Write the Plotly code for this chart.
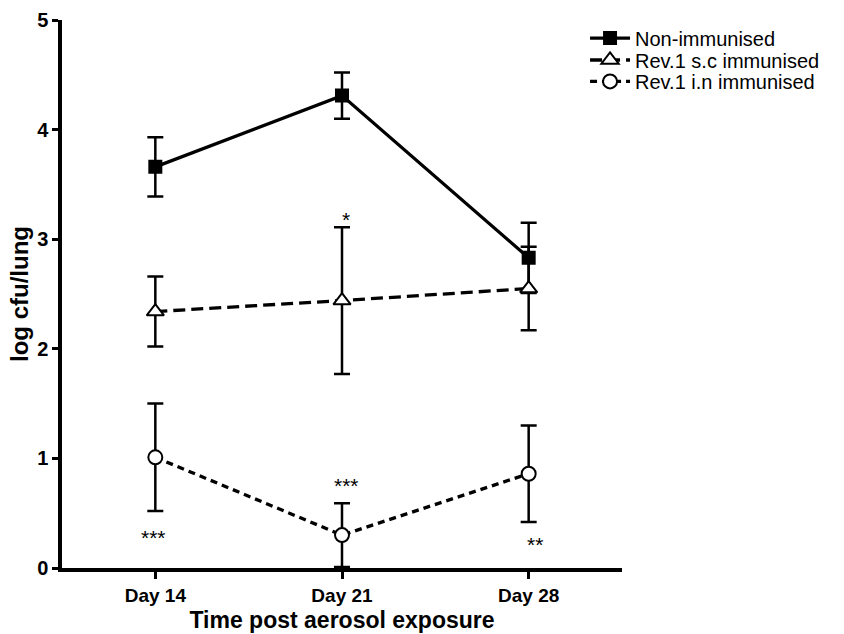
import plotly.graph_objects as go

days = ["Day 14", "Day 21", "Day 28"]
non_imm = [3.66, 4.31, 2.83]
non_imm_err = [0.27, 0.21, 0.32]
sc_imm = [2.34, 2.44, 2.55]
sc_imm_err = [0.32, 0.67, 0.38]
in_imm = [1.01, 0.30, 0.86]
in_imm_err = [0.49, 0.29, 0.44]

sig_labels = ["***", "*", "***", "**"]
sig_x = [0, 1, 1, 2]
sig_y = [0.275, 3.18, 0.755, 0.215]
sig_xshift = [-2, 4, 4, 6]

FONT = "Liberation Sans, Arial, sans-serif"

fig = go.Figure()

def add(name, y, err, dash, symbol, size, fill, leg):
    fig.add_trace(go.Scatter(
        x=days, y=y, name=name, mode="lines+markers", legend=leg,
        line=dict(color="black", width=3.3, dash=dash),
        marker=dict(symbol=symbol, size=size, color=fill,
                    line=dict(color="black", width=2)),
        error_y=dict(type="data", array=err, visible=True, color="black",
                     thickness=2.5, width=8),
    ))

add("Non-immunised", non_imm, non_imm_err, "solid", "square", 12, "black", "legend")
add("Rev.1 s.c immunised", sc_imm, sc_imm_err, "12px,6px", "triangle-up", 15, "white", "legend2")
add("Rev.1 i.n immunised", in_imm, in_imm_err, "7px,5px", "circle", 14, "white", "legend3")

for lab, xx, yy, xs in zip(sig_labels, sig_x, sig_y, sig_xshift):
    fig.add_annotation(x=xx, y=yy, text=lab, showarrow=False, xshift=xs,
                       font=dict(family=FONT, size=21, color="black"),
                       xanchor="center", yanchor="middle")

def leg(y):
    return dict(x=0.934, y=y, xanchor="left", yanchor="middle",
                font=dict(family=FONT, size=20, color="black"),
                bgcolor="rgba(0,0,0,0)", itemwidth=40)

fig.update_layout(
    width=844, height=634,
    margin=dict(l=62, r=222, t=20, b=66),
    paper_bgcolor="white", plot_bgcolor="white",
    font=dict(family=FONT, color="black"),
    showlegend=True,
    legend=leg(0.967), legend2=leg(0.927), legend3=leg(0.888),
)
fig.update_xaxes(
    type="category", range=[-0.5, 2.5], automargin=False,
    showline=True, linecolor="black", linewidth=3.5,
    ticks="outside", ticklen=7, tickwidth=3, tickcolor="black",
    showgrid=False, zeroline=False,
    tickfont=dict(family=FONT, size=19, color="black", weight="bold"),
    title=dict(text="Time post aerosol exposure",
               font=dict(family=FONT, size=23, color="black", weight="bold"),
               standoff=8),
)
fig.update_yaxes(
    range=[0, 5], dtick=1, tick0=0, automargin=False,
    showline=True, linecolor="black", linewidth=3.5,
    ticks="outside", ticklen=6, tickwidth=3, tickcolor="black",
    showgrid=False, zeroline=False,
    tickfont=dict(family=FONT, size=20, color="black", weight="bold"),
    title=dict(text="log cfu/lung",
               font=dict(family=FONT, size=24, color="black", weight="bold"),
               standoff=3),
)

fig.write_html("out.html")
